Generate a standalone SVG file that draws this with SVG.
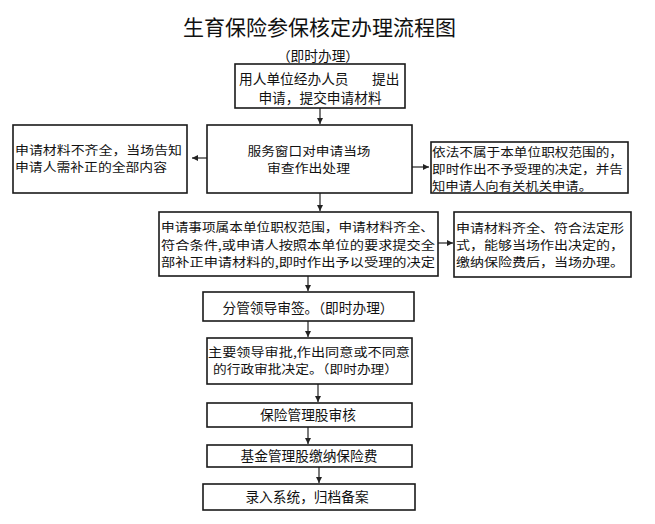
<svg xmlns="http://www.w3.org/2000/svg" width="655" height="524" viewBox="0 0 655 524">
<style>
.bx{fill:#fff;stroke:#1a1a1a;stroke-width:1.6}
.t{font-family:"Noto Sans CJK SC","Noto Sans",sans-serif;font-size:13.7px;fill:#111}
.m{font-family:"Noto Sans CJK SC","Noto Sans",sans-serif;font-size:12px;fill:#111}
.c{text-anchor:middle}
.ttl{font-family:"Noto Sans CJK SC","Noto Sans",sans-serif;font-size:21px;fill:#111;text-anchor:middle}
.ln{stroke:#222;stroke-width:1.2;fill:none;marker-end:url(#ah)}
</style>
<defs>
<marker id="ah" markerUnits="userSpaceOnUse" markerWidth="7" markerHeight="7" refX="6" refY="3" orient="auto">
<path d="M0,0 L6,3 L0,6 Z" fill="#222"/>
</marker>
</defs>
<rect width="655" height="524" fill="#fff"/>
<text class="ttl" x="319.5" y="35">生育保险参保核定办理流程图</text>
<text class="t c" x="318" y="61">（即时办理）</text>

<g id="connectors">
<line class="ln" x1="320" y1="108" x2="320" y2="124"/>
<line class="ln" x1="207" y1="158" x2="192" y2="158"/>
<line class="ln" x1="412" y1="167" x2="429" y2="167"/>
<line class="ln" x1="320" y1="193" x2="320" y2="211"/>
<line class="ln" x1="438" y1="243" x2="453" y2="243"/>
<line class="ln" x1="308" y1="276" x2="308" y2="291"/>
<line class="ln" x1="308" y1="321" x2="308" y2="337"/>
<line class="ln" x1="318" y1="384" x2="318" y2="402"/>
<line class="ln" x1="308" y1="427" x2="308" y2="444"/>
<line class="ln" x1="319" y1="467" x2="319" y2="483"/>
</g>

<g id="n1">
<rect class="bx" x="235" y="64" width="170" height="44"/>
<text class="t" x="239" y="84">用人单位经办人员<tspan x="372">提出</tspan></text>
<text class="t c" x="320" y="103">申请，提交申请材料</text>
</g>

<g id="n2">
<rect class="bx" x="13" y="125" width="174" height="68"/>
<text class="m" x="15" y="155" textLength="167" lengthAdjust="spacingAndGlyphs">申请材料不齐全，当场告知</text>
<text class="m" x="15" y="172" textLength="152" lengthAdjust="spacingAndGlyphs">申请人需补正的全部内容</text>
</g>

<g id="n3">
<rect class="bx" x="207" y="125" width="205" height="68"/>
<text class="m c" x="309" y="155.5" textLength="123" lengthAdjust="spacingAndGlyphs">服务窗口对申请当场</text>
<text class="m c" x="308.5" y="172.5" textLength="83" lengthAdjust="spacingAndGlyphs">审查作出处理</text>
</g>

<g id="n4">
<rect class="bx" x="431" y="142" width="197" height="51"/>
<text class="m" x="432" y="157" textLength="191" lengthAdjust="spacingAndGlyphs">依法不属于本单位职权范围的，</text>
<text class="m" x="432" y="174" textLength="191" lengthAdjust="spacingAndGlyphs">即时作出不予受理的决定，并告</text>
<text class="m" x="432" y="191" textLength="160" lengthAdjust="spacingAndGlyphs">知申请人向有关机关申请。</text>
</g>

<g id="n5">
<rect class="bx" x="159" y="212" width="279" height="64"/>
<text class="m" x="161" y="232" textLength="273" lengthAdjust="spacingAndGlyphs">申请事项属本单位职权范围，申请材料齐全、</text>
<text class="m" x="161" y="249.5" textLength="274" lengthAdjust="spacingAndGlyphs">符合条件,或申请人按照本单位的要求提交全</text>
<text class="m" x="161" y="267" textLength="274" lengthAdjust="spacingAndGlyphs">部补正申请材料的,即时作出予以受理的决定</text>
</g>

<g id="n6">
<rect class="bx" x="454" y="212" width="177" height="65"/>
<text class="m" x="456" y="232.5" textLength="168" lengthAdjust="spacingAndGlyphs">申请材料齐全、符合法定形</text>
<text class="m" x="456" y="249.5" textLength="168" lengthAdjust="spacingAndGlyphs">式，能够当场作出决定的，</text>
<text class="m" x="456" y="266.5" textLength="168" lengthAdjust="spacingAndGlyphs">缴纳保险费后，当场办理。</text>
</g>

<g id="n7">
<rect class="bx" x="203" y="292" width="211" height="29"/>
<text class="t c" x="308" y="313">分管领导审签。（即时办理）</text>
</g>

<g id="n8">
<rect class="bx" x="207" y="338" width="205" height="46"/>
<text class="m" x="208" y="357" textLength="202" lengthAdjust="spacingAndGlyphs">主要领导审批,作出同意或不同意</text>
<text class="m" x="213" y="374" textLength="185" lengthAdjust="spacingAndGlyphs">的行政审批决定。（即时办理）</text>
</g>

<g id="n9">
<rect class="bx" x="207" y="403" width="205" height="24"/>
<text class="t c" x="308" y="420">保险管理股审核</text>
</g>

<g id="n10">
<rect class="bx" x="207" y="445" width="205" height="22"/>
<text class="t c" x="309" y="461">基金管理股缴纳保险费</text>
</g>

<g id="n11">
<rect class="bx" x="203" y="484" width="212" height="26"/>
<text class="t c" x="307" y="502">录入系统，归档备案</text>
</g>
</svg>
